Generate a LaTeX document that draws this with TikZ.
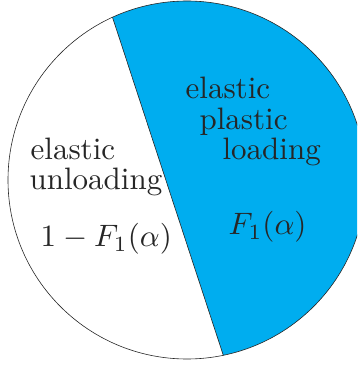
\documentclass[tikz,border=0pt]{standalone}
\usetikzlibrary{calc}
\definecolor{pieblue}{RGB}{0,173,239}
\tikzset{
  lbl/.style={inner sep=0pt, anchor=base west, scale=3.1, text=black!85},
  outline/.style={draw=black!85, line width=0.6pt}
}
\begin{document}
\begin{tikzpicture}[x=1pt,y=1pt]
\useasboundingbox (0,0) rectangle (357,365);
\clip (0,0) rectangle (357,365);
\coordinate (O) at (187,185);
\coordinate (A) at ($(O)+(114.6:179)$);
\coordinate (B) at ($(O)+(-78.3:179)$);
\fill[pieblue] (A) arc[start angle=114.6, end angle=-78.3, radius=179] -- cycle;
\draw[outline] (O) circle[radius=179];
\draw[outline] (A) -- (B);
% left labels
\node[lbl] (le1) at (30,205) {elastic};
\node[lbl] (le2) at (29,175) {unloading};
\node[lbl] (lf) at (40,118) {$1-F_1(\alpha)$};
% right labels
\node[lbl] (re1) at (185,266) {elastic};
\node[lbl] (re2) at (199,235) {plastic};
\node[lbl] (re3) at (222,205) {loading};
\node[lbl] (rf) at (228,130) {$F_1(\alpha)$};
\end{tikzpicture}
\end{document}
